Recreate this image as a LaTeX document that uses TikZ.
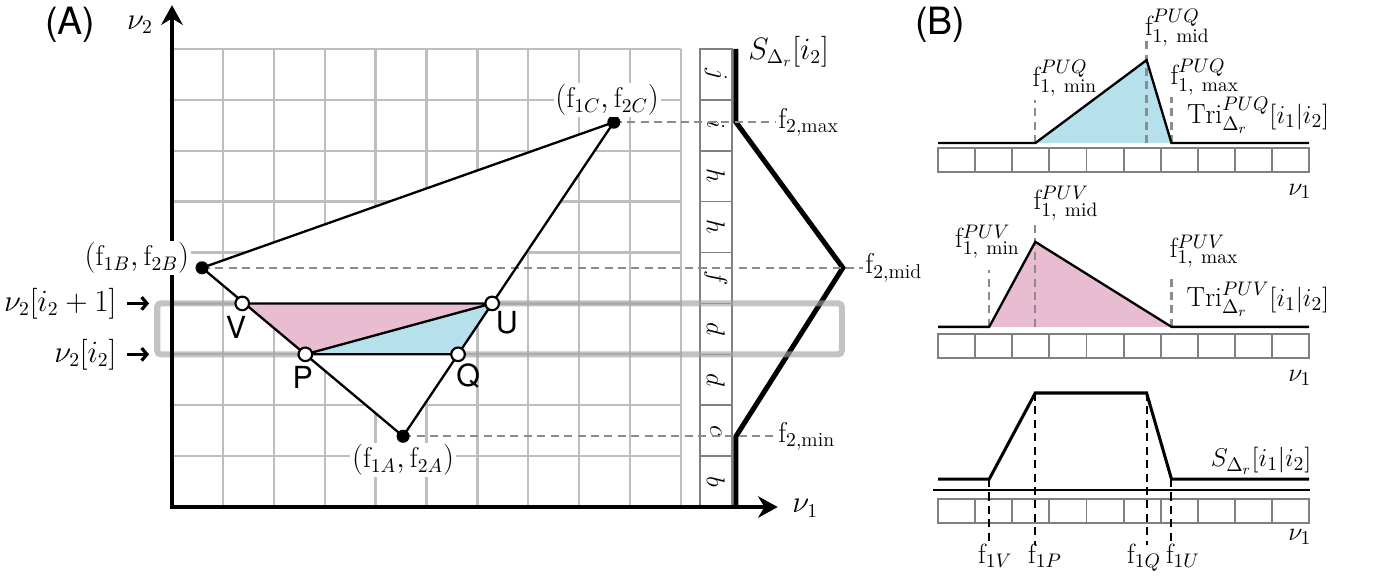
\documentclass[tikz,border=0pt]{standalone}
\usepackage{fontspec}
\newfontfamily\heros{TeX Gyre Heros}
\usetikzlibrary{arrows.meta,calc,positioning}

\definecolor{pinkfill}{RGB}{233,189,209}
\definecolor{bluefill}{RGB}{182,225,236}
\definecolor{gridgray}{RGB}{190,190,190}
\definecolor{cellgray}{RGB}{128,128,128}
\definecolor{bandgray}{RGB}{160,160,160}
\definecolor{guidegray}{RGB}{140,140,140}

% nu_1 positions of V, P, Q, U (in grid cells)
\def\xV{1.38}
\def\xP{2.62}
\def\xQ{5.62}
\def\xU{6.29}

\tikzset{
  mathlbl/.style={font=\fontsize{16}{19}\selectfont, inner sep=1pt},
  plotlbl/.style={font=\fontsize{15.5}{18}\selectfont, inner sep=1pt},
  ptlbl/.style={font=\heros\fontsize{17}{20}\selectfont, inner sep=0pt},
  panellbl/.style={font=\heros\fontsize{21}{25}\selectfont, inner sep=0pt},
  fulldot/.style={circle, fill=black, inner sep=0pt, minimum size=7.3pt},
  opendot/.style={circle, draw=black, fill=white, line width=1.2pt, inner sep=0pt, minimum size=7.6pt},
  gridline/.style={gridgray, line width=1.3pt},
  edge/.style={black, line width=1.3pt},
  axisline/.style={black, line width=1.9pt},
  guide/.style={guidegray, dash pattern=on 4.5pt off 3pt, line width=1.3pt},
  blackguide/.style={black, dash pattern=on 4.5pt off 3pt, line width=1.1pt},
  colcell/.style={draw=cellgray, line width=0.9pt, rotate=-90, minimum width=1cm,
    minimum height=0.63cm, inner sep=0pt, font=\fontsize{14}{17}\selectfont},
  stripcell/.style={draw=cellgray, line width=1.1pt},
  band/.style={draw=bandgray, opacity=0.63, line width=3.4pt, rounded corners=2pt},
  sline/.style={black, line width=2.8pt},
  sidearrow/.style={black, line width=1.8pt, -{Straight Barb[length=3pt,width=7pt]}},
}

\begin{document}
\begin{tikzpicture}
  \useasboundingbox (-3.379,-1.356) rectangle (23.752,9.961);

  % ---- (A) grid, bin column and S line
  \draw[gridline] (0,0) grid (10,9);
  \foreach \lt [count=\k from 0] in {b,c,d,d,f,h,h,i,j}
    \node[colcell] (cell\k) at (10.685,\k+0.5) {$\lt$};

  \coordinate (B) at (0.59,4.70);
  \coordinate (C) at (8.68,7.56);
  \coordinate (A) at (4.54,1.39);
  \coordinate (V) at (\xV,4);
  \coordinate (P) at (\xP,3);
  \coordinate (Q) at (\xQ,3);
  \coordinate (U) at (\xU,4);

  \coordinate (Stop) at (11.08,9);
  \coordinate (Smax) at (11.08,7.56);
  \coordinate (Smid) at (13.18,4.70);
  \coordinate (Smin) at (11.08,1.39);
  \coordinate (Sbot) at (11.08,0);
  \draw[sline] (Stop) -- (Smax) -- (Smid) -- (Smin) -- (Sbot);
  \node[mathlbl, anchor=west] (slbl) at (11.28,8.95) {$S_{\Delta_r}[i_2]$};

  \draw[band] (-0.29,3) rectangle (13.16,4);

  % triangle
  \fill[white] (B) -- (C) -- (A) -- cycle;
  \fill[pinkfill] (V) -- (U) -- (P) -- cycle;
  \fill[bluefill] (P) -- (U) -- (Q) -- cycle;

  \node[mathlbl, anchor=west] (ftwomax) at (11.87,7.56) {$\mathrm{f}_{2,\mathrm{max}}$};
  \node[mathlbl, anchor=west] (ftwomid) at (13.58,4.70) {$\mathrm{f}_{2,\mathrm{mid}}$};
  \node[mathlbl, anchor=west] (ftwomin) at (11.87,1.39) {$\mathrm{f}_{2,\mathrm{min}}$};
  \draw[guide] (C) -- (ftwomax.west);
  \draw[guide] (B) -- (ftwomid.west);
  \draw[guide] (A) -- (ftwomin.west);

  \draw[edge] (B) -- (C) -- (A) -- cycle;
  \draw[edge] (V) -- (U) -- (P) -- (Q);

  % axes
  \coordinate (nutwotip) at (0,9.86);
  \coordinate (nuonetip) at (11.9,0);
  \draw[axisline, {Stealth[length=11pt,width=12pt]}-{Stealth[length=11pt,width=12pt]}]
    (nutwotip) -- (0,0) -- (nuonetip);
  \node[mathlbl] (nutwo) at (-0.63,9.47) {$\nu_2$};
  \node[mathlbl] (nuone) at (12.44,-0.02) {$\nu_1$};
  \node[panellbl] (panA) at (-2.0,9.47) {(A)};

  \node[mathlbl, anchor=east] (nuup) at (-1.05,4) {$\nu_2[i_2+1]$};
  \node[mathlbl, anchor=east] (nulow) at (-1.05,3) {$\nu_2[i_2]$};
  \coordinate (arrup) at (-0.45,4);
  \coordinate (arrlow) at (-0.45,3);
  \draw[sidearrow] ([xshift=5pt]nuup.east) -- (arrup);
  \draw[sidearrow] ([xshift=5pt]nulow.east) -- (arrlow);

  % points
  \node[fulldot] (Bdot) at (B) {};
  \node[fulldot] (Cdot) at (C) {};
  \node[fulldot] (Adot) at (A) {};
  \node[opendot] (Vdot) at (V) {};
  \node[opendot] (Pdot) at (P) {};
  \node[opendot] (Qdot) at (Q) {};
  \node[opendot] (Udot) at (U) {};
  \node[mathlbl, fill=white] (Blbl) at ($(B)+(-1.28,0.19)$) {$(\mathrm{f}_{1B},\mathrm{f}_{2B})$};
  \node[mathlbl, fill=white] (Clbl) at ($(C)+(-0.13,0.44)$) {$(\mathrm{f}_{1C},\mathrm{f}_{2C})$};
  \node[mathlbl, fill=white] (Albl) at ($(A)+(0,-0.47)$) {$(\mathrm{f}_{1A},\mathrm{f}_{2A})$};
  \node[ptlbl] (Vlbl) at ($(V)+(-0.12,-0.48)$) {V};
  \node[ptlbl] (Plbl) at ($(P)+(-0.05,-0.45)$) {P};
  \node[ptlbl] (Ulbl) at ($(U)+(0.29,-0.37)$) {U};
  \node[ptlbl] (Qlbl) at ($(Q)+(0.2,-0.43)$) {Q};

  % ---- (B) projections onto nu_1
  \node[panellbl] (panB) at (15.09,9.47) {(B)};
  \begin{scope}[shift={(15.05,0)}, x=0.729cm]
    % Tri PUQ
    \fill[bluefill] (\xP,7.15) -- (\xQ,8.78) -- (\xU,7.15) -- cycle;
    \draw[guide] (\xP,7.15) -- (\xP,8.00);
    \draw[guide] (\xQ,7.15) -- (\xQ,9.17);
    \draw[guide] (\xU,7.15) -- (\xU,8.06);
    \draw[edge] (0,7.15) -- (\xP,7.15) -- (\xQ,8.78) -- (\xU,7.15) -- (10,7.15);
    \foreach \k in {0,...,9}
      \draw[stripcell] (\k,6.59) rectangle ++(1,0.47);
    \node[plotlbl, anchor=south west] (qmin) at (\xP-0.13,8.02) {$\mathrm{f}^{PUQ}_{1,\ \mathrm{min}}$};
    \node[plotlbl, anchor=south west] (qmid) at (\xQ-0.10,9.00) {$\mathrm{f}^{PUQ}_{1,\ \mathrm{mid}}$};
    \node[plotlbl, anchor=south west] (qmax) at (\xU-0.08,8.05) {$\mathrm{f}^{PUQ}_{1,\ \mathrm{max}}$};
    \node[plotlbl, anchor=base east] (triq) at (10.6,7.54) {$\mathrm{Tri}^{PUQ}_{\Delta_r}[i_1|i_2]$};
    \node[plotlbl] (nuoneq) at (9.75,6.2) {$\nu_1$};

    % Tri PUV
    \fill[pinkfill] (\xV,3.54) -- (\xP,5.21) -- (\xU,3.54) -- cycle;
    \draw[guide] (\xV,3.54) -- (\xV,4.66);
    \draw[guide] (\xP,3.54) -- (\xP,5.58);
    \draw[guide] (\xU,3.54) -- (\xU,4.56);
    \draw[edge] (0,3.54) -- (\xV,3.54) -- (\xP,5.21) -- (\xU,3.54) -- (10,3.54);
    \foreach \k in {0,...,9}
      \draw[stripcell] (\k,2.92) rectangle ++(1,0.47);
    \node[plotlbl, anchor=south] (vmin) at (\xV-0.05,4.85) {$\mathrm{f}^{PUV}_{1,\ \mathrm{min}}$};
    \node[plotlbl, anchor=south west] (vmid) at (\xP-0.10,5.60) {$\mathrm{f}^{PUV}_{1,\ \mathrm{mid}}$};
    \node[plotlbl, anchor=south west] (vmax) at (\xU-0.10,4.66) {$\mathrm{f}^{PUV}_{1,\ \mathrm{max}}$};
    \node[plotlbl, anchor=base east] (triv) at (10.6,3.93) {$\mathrm{Tri}^{PUV}_{\Delta_r}[i_1|i_2]$};
    \node[plotlbl] (nuonev) at (9.75,2.53) {$\nu_1$};

    % S[i1|i2]
    \draw[edge, line width=1.7pt] (0,0.55) -- (\xV,0.55) -- (\xP,2.24) -- (\xQ,2.24) -- (\xU,0.55) -- (10,0.55);
    \draw[edge, line width=1.1pt] (-0.13,0.33) -- (10.03,0.33);
    \foreach \k in {0,...,9}
      \draw[stripcell] (\k,-0.31) rectangle ++(1,0.47);
    \draw[blackguide] (\xV,0.55) -- (\xV,-0.75);
    \draw[blackguide] (\xP,2.24) -- (\xP,-0.75);
    \draw[blackguide] (\xQ,2.24) -- (\xQ,-0.75);
    \draw[blackguide] (\xU,0.55) -- (\xU,-0.75);
    \node[plotlbl, anchor=base] (fV) at (1.54,-1.10) {$\mathrm{f}_{1V}$};
    \node[plotlbl, anchor=base] (fP) at (2.88,-1.10) {$\mathrm{f}_{1P}$};
    \node[plotlbl, anchor=base] (fQ) at (5.55,-1.10) {$\mathrm{f}_{1Q}$};
    \node[plotlbl, anchor=base] (fU) at (6.60,-1.10) {$\mathrm{f}_{1U}$};
    \node[plotlbl, anchor=base east] (slblb) at (10.12,0.79) {$S_{\Delta_r}[i_1|i_2]$};
    \node[plotlbl] (nuones) at (9.75,-0.59) {$\nu_1$};
  \end{scope}
\end{tikzpicture}
\end{document}
